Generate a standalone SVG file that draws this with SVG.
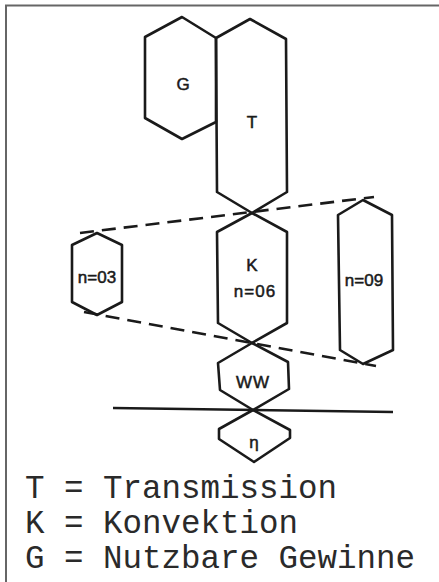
<svg xmlns="http://www.w3.org/2000/svg" width="439" height="582" viewBox="0 0 439 582">
<style>
.hex{fill:none;stroke:#1a1a1a;stroke-width:2.6;stroke-linejoin:round}
.lbl{font-family:"Liberation Sans",Arial,sans-serif;font-size:17px;fill:#1a1a1a;text-anchor:middle;stroke:#1a1a1a;stroke-width:0.5}
.dash{fill:none;stroke:#1a1a1a;stroke-width:2.6;stroke-dasharray:14 8}
.leg{font-family:"Liberation Mono","Courier New",monospace;font-size:32.5px;fill:#2a2a2a}
</style>
<rect width="439" height="582" fill="#ffffff"/>
<g id="frame" fill="none" stroke="#666" stroke-width="2">
<path d="M6 582 V5.5 H439"/>
</g>
<g id="node-G">
<polygon class="hex" points="182,17 216,38 216,122 182,139 145,118 145,37"/>
<text class="lbl" x="183" y="90">G</text>
</g>
<g id="node-T">
<polygon class="hex" points="250,19 286,39 287,192 252,213 217,192 216,38"/>
<text class="lbl" x="252" y="128">T</text>
</g>
<g id="node-K">
<polygon class="hex" points="252,213 287,232 287,323 252,343 218,323 217,232"/>
<text class="lbl" x="252" y="271">K</text>
<text class="lbl" x="255" y="297" letter-spacing="1">n=06</text>
</g>
<g id="node-WW">
<polygon class="hex" points="252,343 288,362 289,389 253,410 220,390 218,363"/>
<text class="lbl" x="253" y="388" letter-spacing="1">WW</text>
</g>
<g id="node-eta">
<polygon class="hex" points="253,410 290,430 290,438 254,462 219,439 219,429"/>
<text class="lbl" x="254" y="448">η</text>
</g>
<g id="node-n03">
<polygon class="hex" points="97,233 122,245 122,302 97,315 72,302 72,245"/>
<text class="lbl" x="97" y="283">n=03</text>
</g>
<g id="node-n09">
<polygon class="hex" points="363,200 392,215 393,350 363,364 340,350 338,215"/>
<text class="lbl" x="364" y="286">n=09</text>
</g>
<g id="connectors">
<line class="dash" x1="80" y1="233" x2="374" y2="197"/>
<line class="dash" x1="84" y1="312" x2="376" y2="366"/>
<line x1="113" y1="408" x2="393" y2="412" stroke="#1a1a1a" stroke-width="2.6"/>
</g>
<g id="legend">
<text class="leg" x="25" y="498" xml:space="preserve">T = Transmission</text>
<text class="leg" x="25" y="533" xml:space="preserve">K = Konvektion</text>
<text class="leg" x="25" y="568" xml:space="preserve">G = Nutzbare Gewinne</text>
</g>
</svg>
